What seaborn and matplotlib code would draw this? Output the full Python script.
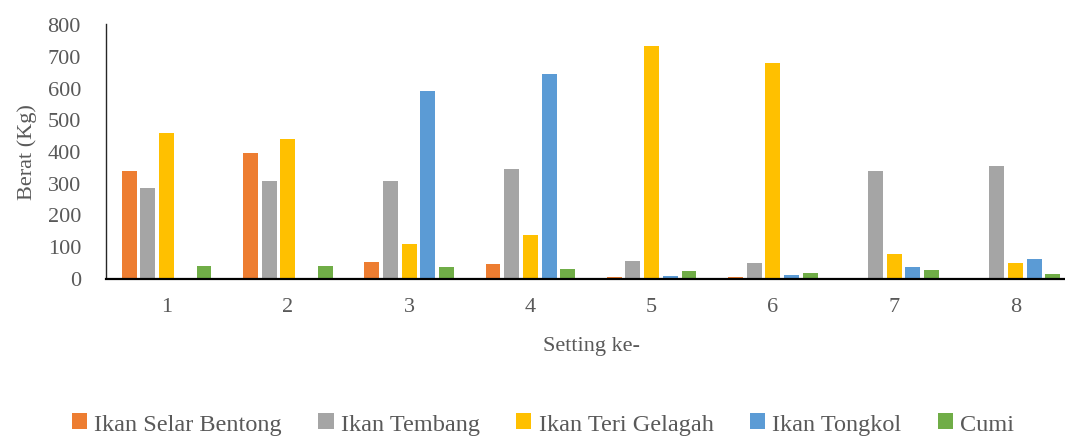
import matplotlib
matplotlib.use("Agg")
import matplotlib.pyplot as plt
import seaborn as sns
import pandas as pd

# Data
settings = ["1", "2", "3", "4", "5", "6", "7", "8"]
species = ["Ikan Selar Bentong", "Ikan Tembang", "Ikan Teri Gelagah", "Ikan Tongkol", "Cumi"]
selar_bentong = [336, 395, 50, 45, 4, 4, 0, 0]
tembang = [282, 304, 304, 342, 54, 48, 338, 354]
teri_gelagah = [456, 438, 108, 136, 732, 676, 76, 47]
tongkol = [0, 0, 590, 643, 6, 10, 36, 60]
cumi = [39, 37, 34, 28, 21, 17, 26, 12]
colors = ["#ED7D31", "#A5A5A5", "#FFC000", "#5B9BD5", "#70AD47"]

series = [selar_bentong, tembang, teri_gelagah, tongkol, cumi]
rows = []
for name, values in zip(species, series):
    for s, v in zip(settings, values):
        rows.append({"setting": s, "species": name, "berat": v})
df = pd.DataFrame(rows)

sns.set_theme(style="white")
plt.rcParams["font.family"] = ["Liberation Serif", "DejaVu Serif"]
text_color = "#595959"

fig = plt.figure(figsize=(10.65, 4.39), dpi=100)
ax = fig.add_axes([106 / 1065, 1 - 279 / 439, 970 / 1065, 254 / 439])

sns.barplot(
    data=df, x="setting", y="berat", hue="species",
    hue_order=species, order=settings, palette=colors,
    width=0.77, gap=0.2, linewidth=0,
    saturation=1, legend=True, ax=ax,
)

ax.set_xlim(-0.5, 7.5)
ax.set_ylim(0, 800)
ax.set_yticks(range(0, 801, 100))
ax.tick_params(axis="y", length=0, pad=18, labelsize=16, labelcolor=text_color)
ax.tick_params(axis="x", length=0, pad=13, labelsize=16, labelcolor=text_color)
ax.set_xlabel("Setting ke-", fontsize=16, color=text_color, labelpad=14)
ax.set_ylabel("Berat (Kg)", fontsize=16, color=text_color, labelpad=8)

for side in ["top", "right"]:
    ax.spines[side].set_visible(False)
ax.spines["left"].set_color("#262626")
ax.spines["left"].set_linewidth(1.0)
ax.spines["bottom"].set_color("#000000")
ax.spines["bottom"].set_linewidth(1.6)
# push the axis line just under zero so the tiny bars stay visible
ax.spines["bottom"].set_position(("outward", 0.9))

handles, labels = ax.get_legend_handles_labels()
ax.get_legend().remove()
fig.legend(
    handles, labels, loc="lower center", bbox_to_anchor=(0.51, -0.042), ncol=5,
    frameon=False, fontsize=17.5, labelcolor=text_color,
    handlelength=0.62, handleheight=0.62, handletextpad=0.3, columnspacing=1.5,
)

fig.savefig("out.png", dpi=100)
